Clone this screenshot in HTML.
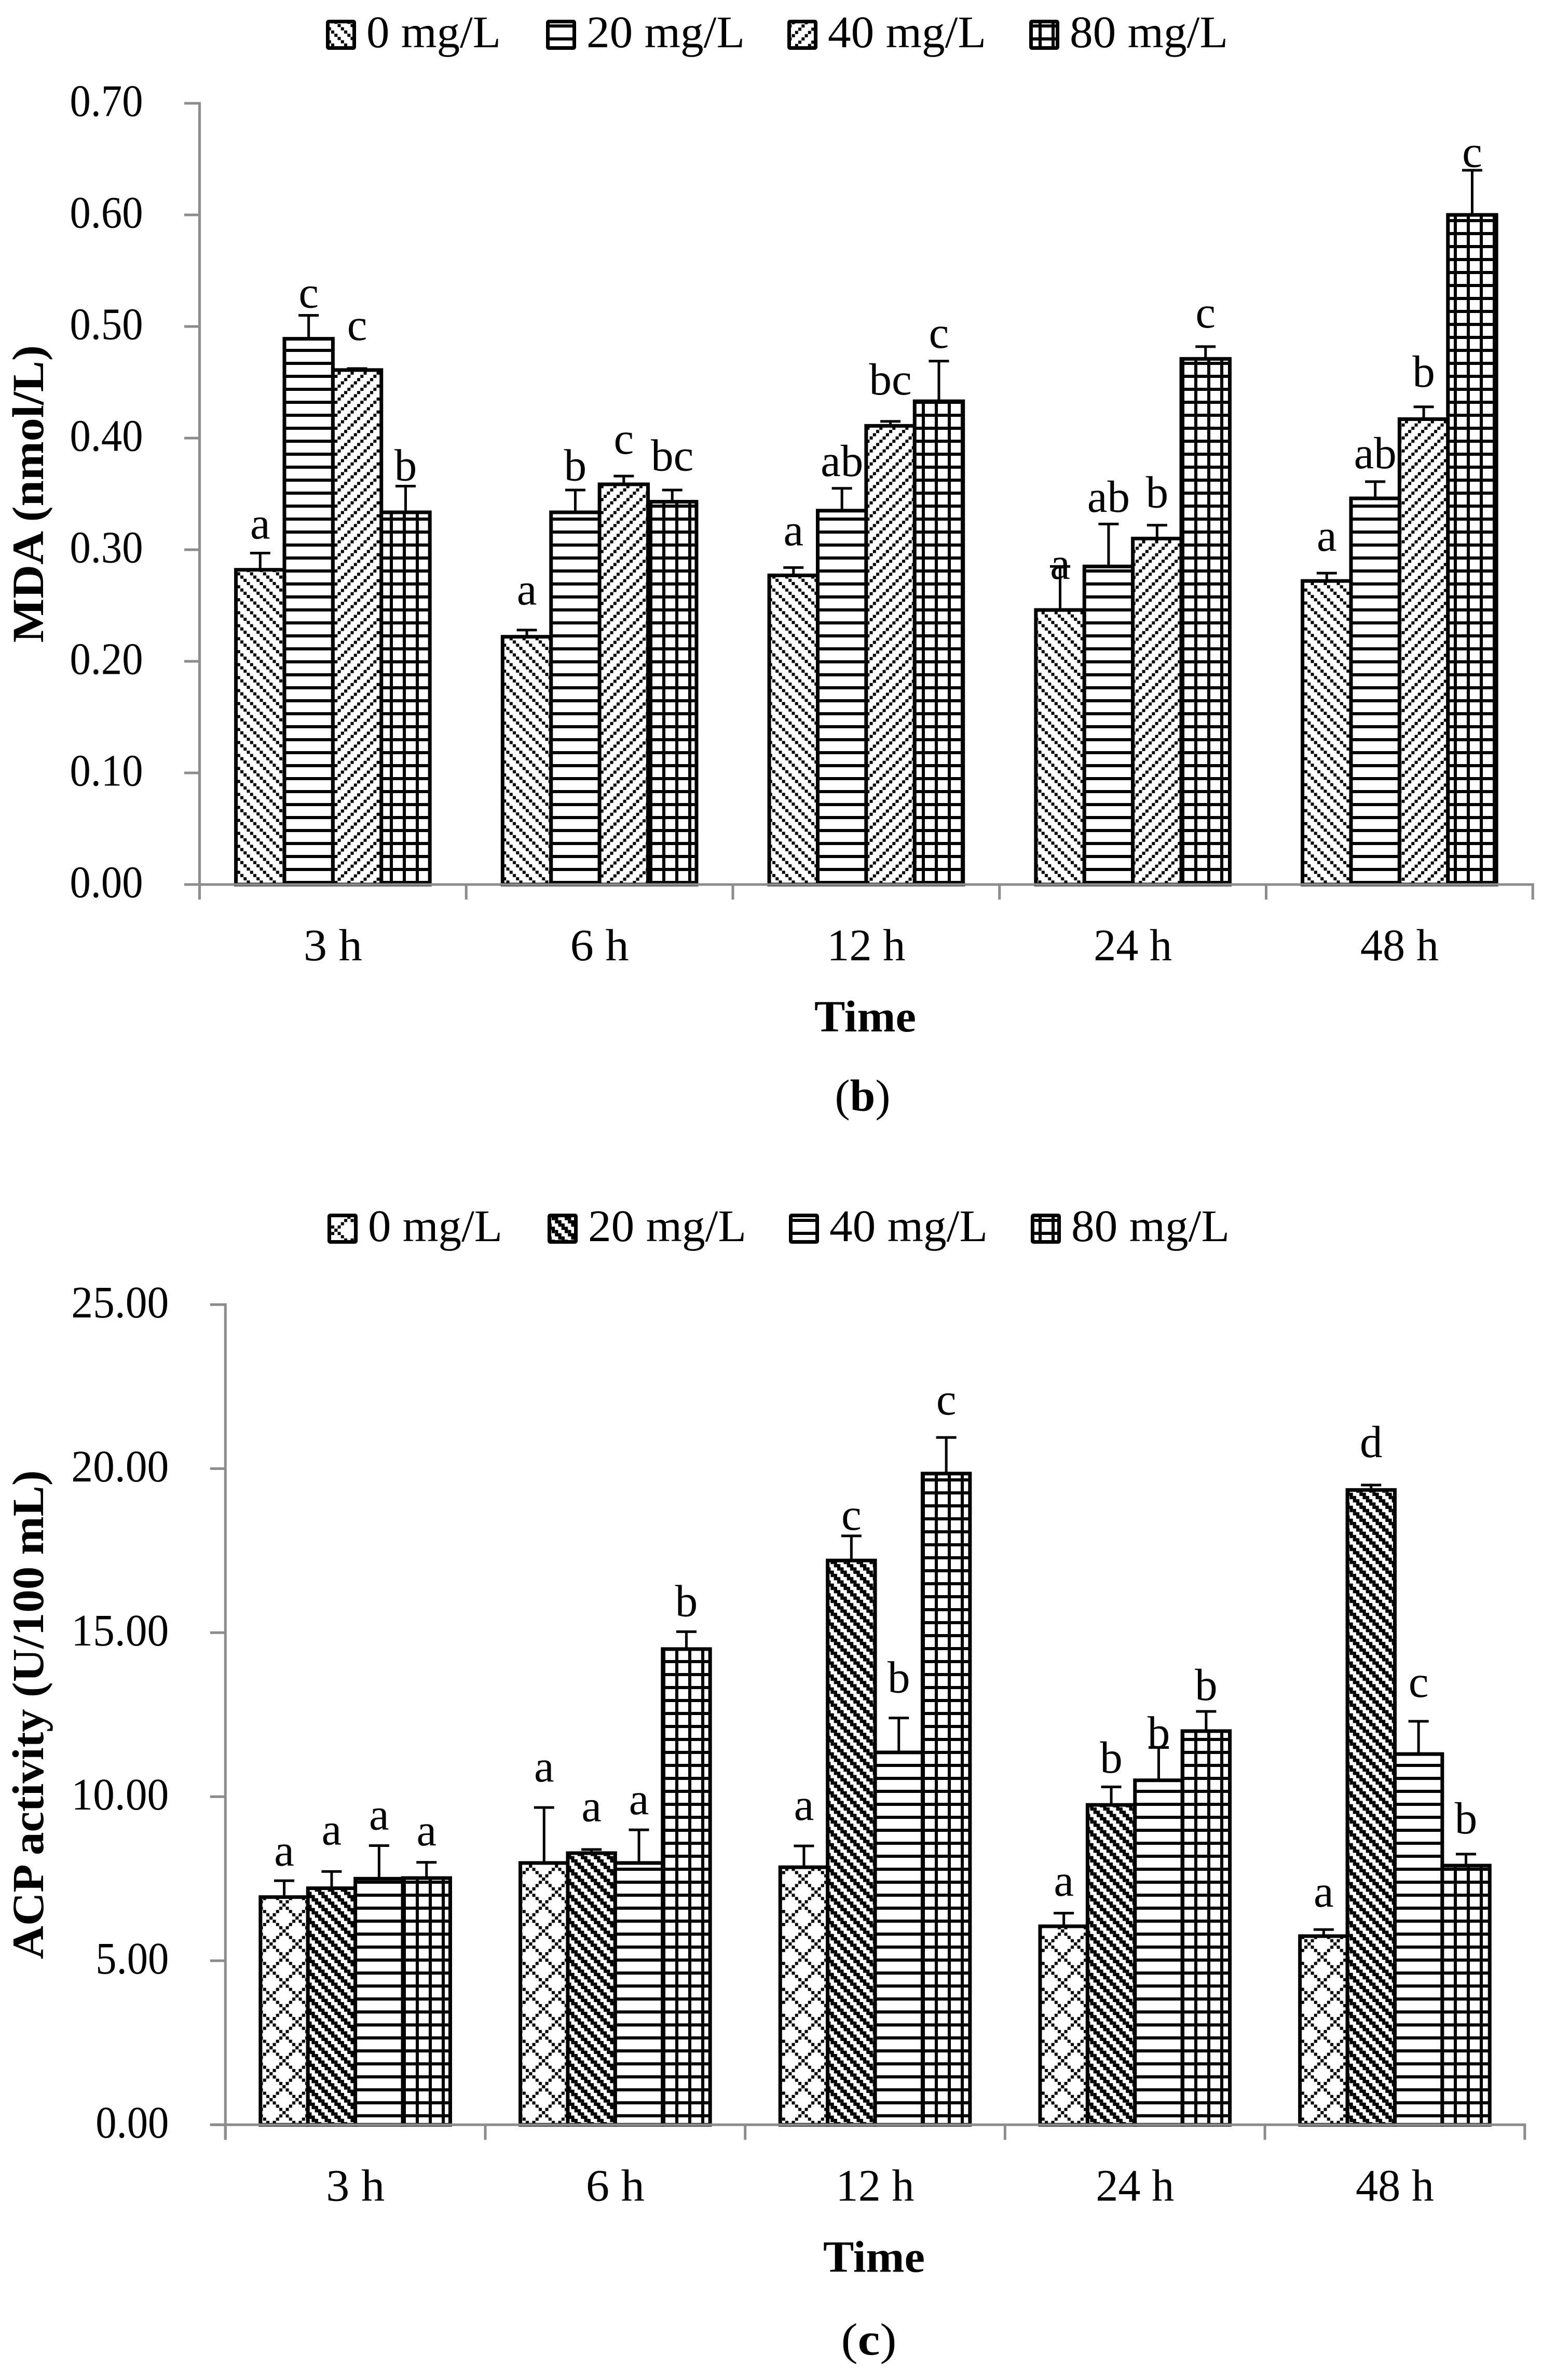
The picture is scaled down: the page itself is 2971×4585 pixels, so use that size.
<!DOCTYPE html>
<html lang="en">
<head>
<meta charset="utf-8">
<title>MDA and ACP activity bar charts</title>
<style>
html,body{margin:0;padding:0;background:#fff;}
svg{display:block;}
text{font-family:"Liberation Serif",serif;fill:#000;}
</style>
</head>
<body>
<svg id="figure" xmlns="http://www.w3.org/2000/svg" width="2971" height="4585" viewBox="0 0 2971 4585">
<rect x="0" y="0" width="2971" height="4585" fill="#fff"/>
<defs id="hatches"></defs>
</svg>
<script>
// ---------- shared data ----------
const categories = ['3 h', '6 h', '12 h', '24 h', '48 h'];
const seriesNames = ['0 mg/L', '20 mg/L', '40 mg/L', '80 mg/L'];

// ---------- panel (b): MDA ----------
const mdaTicks = ['0.00', '0.10', '0.20', '0.30', '0.40', '0.50', '0.60', '0.70'];
const mda0 = [0.282, 0.222, 0.277, 0.246, 0.272];
const mda20 = [0.489, 0.3335, 0.335, 0.285, 0.346];
const mda40 = [0.461, 0.3586, 0.411, 0.310, 0.417];
const mda80 = [0.3335, 0.343, 0.433, 0.471, 0.600];
const mdaErr0 = [0.297, 0.228, 0.284, 0.285, 0.279];
const mdaErr20 = [0.510, 0.3535, 0.355, 0.323, 0.361];
const mdaErr40 = [0.4623, 0.366, 0.415, 0.322, 0.428];
const mdaErr80 = [0.357, 0.3535, 0.469, 0.482, 0.640];
const mdaLetters0 = ['a', 'a', 'a', 'a', 'a'];
const mdaLetters20 = ['c', 'b', 'ab', 'ab', 'ab'];
const mdaLetters40 = ['c', 'c', 'bc', 'b', 'b'];
const mdaLetters80 = ['b', 'bc', 'c', 'c', 'c'];
const mdaLetterAt0 = [0.310, 0.251, 0.304, 0.274, 0.299];
const mdaLetterAt20 = [0.517, 0.362, 0.366, 0.334, 0.373];
const mdaLetterAt40 = [0.488, 0.386, 0.439, 0.338, 0.446];
const mdaLetterAt80 = [0.362, 0.371, 0.481, 0.499, 0.643];

// ---------- panel (c): ACP ----------
const acpTicks = ['0.00', '5.00', '10.00', '15.00', '20.00', '25.00'];
const acp0 = [6.94, 7.98, 7.85, 6.05, 5.75];
const acp20 = [7.21, 8.28, 17.2, 9.75, 19.35];
const acp40 = [7.5, 7.98, 11.35, 10.5, 11.3];
const acp80 = [7.52, 14.5, 19.85, 12.0, 7.9];
const acpErr0 = [7.44, 9.67, 8.5, 6.45, 5.95];
const acpErr20 = [7.72, 8.39, 17.95, 10.3, 19.5];
const acpErr40 = [8.51, 8.99, 12.4, 11.5, 12.3];
const acpErr80 = [8.0, 15.03, 20.95, 12.6, 8.25];
const acpLetters0 = ['a', 'a', 'a', 'a', 'a'];
const acpLetters20 = ['a', 'a', 'c', 'b', 'd'];
const acpLetters40 = ['a', 'a', 'b', 'b', 'c'];
const acpLetters80 = ['a', 'b', 'c', 'b', 'b'];
const acpLetterAt0 = [7.9, 10.46, 9.29, 6.98, 6.65];
const acpLetterAt20 = [8.54, 9.25, 18.14, 10.73, 20.35];
const acpLetterAt40 = [9.0, 9.47, 13.18, 11.5, 13.04];
const acpLetterAt80 = [8.52, 15.5, 21.65, 12.95, 8.88];

// ---------- helpers ----------
const NS = 'http://www.w3.org/2000/svg';
const svg = document.getElementById('figure');
const defs = document.getElementById('hatches');
const GREY = '#8c8c8c';

function make(tag, attrs, parent) {
  const e = document.createElementNS(NS, tag);
  for (const k in attrs) e.setAttribute(k, attrs[k]);
  parent.appendChild(e);
  return e;
}
function makeText(str, x, y, size, anchor, len, weight, parent) {
  const t = make('text', {x: x, y: y, 'font-size': size, 'text-anchor': anchor}, parent);
  if (weight) t.setAttribute('font-weight', weight);
  if (len) {
    t.setAttribute('textLength', len);
    t.setAttribute('lengthAdjust', 'spacingAndGlyphs');
  }
  t.textContent = str;
  return t;
}
function makePattern(id, px, py, w, h, squares) {
  const p = make('pattern', {id: id, patternUnits: 'userSpaceOnUse', x: px, y: py, width: w, height: h}, defs);
  make('rect', {x: 0, y: 0, width: w, height: h, fill: '#fff'}, p);
  squares.forEach(function (s) {
    make('rect', {x: s[0], y: s[1], width: s[2], height: s[3], fill: '#000'}, p);
  });
}

// ---------- hatch fills ----------
const CELL = 6.25;
const dnSquares = [], upSquares = [], crossSquares = [], darkSquares = [];
for (let i = 0; i < 4; i++) {
  dnSquares.push([i * CELL + 0.1, i * CELL + 0.1, 6, 6]);
  upSquares.push([(3 - i) * CELL + 0.1, i * CELL + 0.1, 6, 6]);
  darkSquares.push([i * CELL, i * CELL, CELL, CELL]);
  darkSquares.push([((i + 1) % 4) * CELL, i * CELL, CELL, CELL]);
}
for (let i = 0; i < 8; i++) {
  crossSquares.push([i * CELL + 0.1, i * CELL + 0.1, 6, 6]);
  crossSquares.push([((8 - i) % 8) * CELL + 0.1, i * CELL + 0.1, 6, 6]);
}
makePattern('dn-dots', 0.4, 21.1, 25, 25, dnSquares);
makePattern('up-dots', 0.45, -3.1, 25, 25, upSquares);
makePattern('h-lines-b', 0, -3, 25, 25, [[0, 0, 25, 6]]);
makePattern('grid-b', 1, -3, 25, 25, [[0, 0, 25, 6], [0, 0, 6, 25]]);
makePattern('cross', 44.2, 16.9, 50, 50, crossSquares);
makePattern('dark-dn', 0.45, 6.9, 25, 25, darkSquares);
makePattern('h-lines-c', 0, -2, 25, 25, [[0, 0, 25, 6]]);
makePattern('grid-c', 1, -2, 25, 25, [[0, 0, 25, 6], [0, 0, 6, 25]]);

// ---------- chart drawing ----------
function drawChart(c) {
  const g = make('g', {}, svg);
  
  

  const yScale = function (v) { return c.zeroY - v * c.pxPerUnit; };
  const xBand = function (i) { return c.axisX + c.catW * i; };
  const barLeft = function (i, s) { return xBand(i) + c.catW / 2 - 2 * c.barW + s * c.barW; };
  const axisEnd = xBand(categories.length);
  const top = yScale(parseFloat(c.ticks[c.ticks.length - 1]));

  // legend
  const swatchX = [628, 1052, 1517, 1983];
  seriesNames.forEach(function (nm, s) {
    const lg = make('g', {}, g);
    
    
    const sx = swatchX[s] + c.legendDx;
    const sw = make('rect', {x: sx + 3.5, y: c.legendTop + 3.5, width: 51, height: 51, rx: 2, fill: 'url(#' + c.fills[s] + ')', stroke: '#000', 'stroke-width': 7}, lg);
    
    
    const lt = makeText(nm, sx + 78, c.legendTop + 53, 87, 'start', 46 * nm.length - 17, null, lg);
    
    
  });

  // bars, error bars, significance letters
  c.series.forEach(function (vals, s) {
    const sg = make('g', {}, g);
    
    
    vals.forEach(function (v, i) {
      const x = barLeft(i, s);
      const cx = x + c.barW / 2;
      const stem = make('line', {x1: cx, x2: cx, y1: yScale(v), y2: yScale(c.errs[s][i]), stroke: '#000', 'stroke-width': 5}, sg);
      
      
      const cap = make('line', {x1: cx - 19.5, x2: cx + 19.5, y1: yScale(c.errs[s][i]), y2: yScale(c.errs[s][i]), stroke: '#000', 'stroke-width': 5}, sg);
      
      
      const bar = make('rect', {x: x, y: yScale(v), width: c.barW, height: c.zeroY - yScale(v), fill: 'url(#' + c.fills[s] + ')', stroke: '#000', 'stroke-width': 7}, sg);
      
      
      const lab = makeText(c.letters[s][i], cx, yScale(c.letterAt[s][i]), 87, 'middle', null, null, sg);
      
      
    });
  });

  // axes
  const yAxis = make('line', {x1: c.axisX, x2: c.axisX, y1: top - 2.5, y2: c.zeroY + 29, stroke: GREY, 'stroke-width': 5}, g);
  
  
  const xAxis = make('line', {x1: c.axisX - 29.5, x2: axisEnd + 2.5, y1: c.zeroY, y2: c.zeroY, stroke: GREY, 'stroke-width': 5}, g);
  
  

  c.ticks.forEach(function (t) {
    const y = yScale(parseFloat(t));
    const tick = make('line', {x1: c.axisX - 29.5, x2: c.axisX, y1: y, y2: y, stroke: GREY, 'stroke-width': 5}, g);
    
    
    const lab = makeText(t, c.axisX - 109, y + 24.5, 87, 'end', (t.length - 1) * 47, null, g);
    
    
  });

  for (let i = 0; i <= categories.length; i++) {
    const tick = make('line', {x1: xBand(i), x2: xBand(i), y1: c.zeroY, y2: c.zeroY + 29, stroke: GREY, 'stroke-width': 5}, g);
    
    
  }
  categories.forEach(function (cat, i) {
    const lab = makeText(cat, xBand(i) + c.catW / 2, c.zeroY + 146, 87, 'middle', 41 * (cat.length - 2) + (cat.length === 3 ? 72 : 69), null, g);
    
    
  });

  // titles
  const xTitle = makeText('Time', c.timeX, c.zeroY + 283, 86, 'middle', 196, 'bold', g);
  
  

  const yTitle = makeText(c.yTitle, 83, (top + c.zeroY) / 2, 86, 'middle', c.yTitleLen, 'bold', g);
  yTitle.setAttribute('transform', 'rotate(-90 83 ' + ((top + c.zeroY) / 2) + ')');
  
  

  const cap = make('text', {x: c.capX, y: c.capY, 'font-size': 87, 'text-anchor': 'middle', textLength: 107, lengthAdjust: 'spacingAndGlyphs'}, g);
  
  
  cap.appendChild(document.createTextNode('('));
  const capB = make('tspan', {'font-weight': 'bold'}, cap);
  capB.textContent = c.capLetter;
  cap.appendChild(document.createTextNode(')'));
}

drawChart({
  name: 'mda-chart',
  ticks: mdaTicks,
  series: [mda0, mda20, mda40, mda80],
  errs: [mdaErr0, mdaErr20, mdaErr40, mdaErr80],
  letters: [mdaLetters0, mdaLetters20, mdaLetters40, mdaLetters80],
  letterAt: [mdaLetterAt0, mdaLetterAt20, mdaLetterAt40, mdaLetterAt80],
  fills: ['dn-dots', 'h-lines-b', 'up-dots', 'grid-b'],
  axisX: 384.5, zeroY: 1704, pxPerUnit: 2150, catW: 513.75, barW: 93.4,
  legendDx: 0, legendTop: 38,
  yTitle: 'MDA (nmol/L)', yTitleLen: 573,
  timeX: 1667, capLetter: 'b', capX: 1662, capY: 2140
});

drawChart({
  name: 'acp-chart',
  ticks: acpTicks,
  series: [acp0, acp20, acp40, acp80],
  errs: [acpErr0, acpErr20, acpErr40, acpErr80],
  letters: [acpLetters0, acpLetters20, acpLetters40, acpLetters80],
  letterAt: [acpLetterAt0, acpLetterAt20, acpLetterAt40, acpLetterAt80],
  fills: ['cross', 'dark-dn', 'h-lines-c', 'grid-c'],
  axisX: 434.3, zeroY: 4093.3, pxPerUnit: 63.2, catW: 500.7, barW: 91.4,
  legendDx: 3, legendTop: 2338,
  yTitle: 'ACP activity (U/100 mL)', yTitleLen: 942,
  timeX: 1684, capLetter: 'c', capX: 1674, capY: 4536
});
</script>
</body>
</html>
